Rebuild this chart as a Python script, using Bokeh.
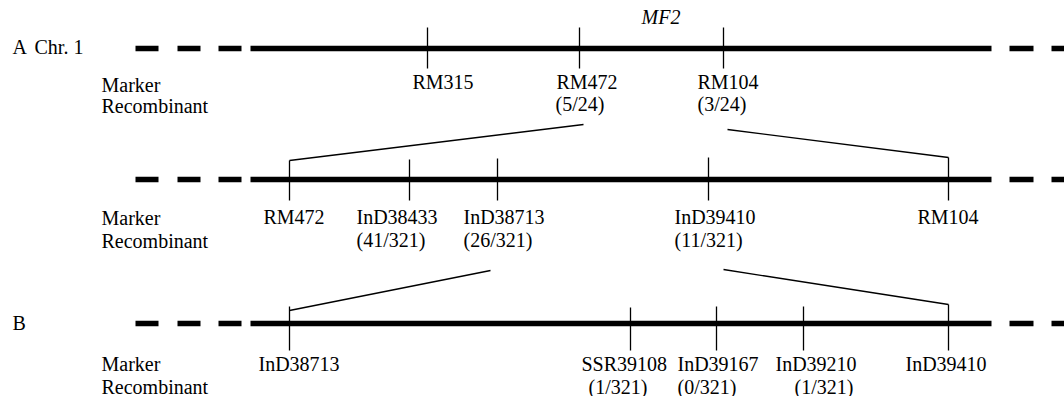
from bokeh.plotting import figure
from bokeh.models import Range1d, ColumnDataSource
from bokeh.embed import file_html
from bokeh.resources import INLINE
from bokeh.core.properties import value

# ---------------- data ----------------
# Row A : chromosome 1 overview
a_markers = ["RM315", "RM472", "RM104"]
a_pos = [427, 579, 723]
a_rec = ["", "(5/24)", "(3/24)"]

# Row A (zoomed interval RM472 - RM104)
m_markers = ["RM472", "InD38433", "InD38713", "InD39410", "RM104"]
m_pos = [289, 409, 497, 708, 948]
m_rec = ["", "(41/321)", "(26/321)", "(11/321)", ""]

# Row B (fine mapping InD38713 - InD39410)
b_markers = ["InD38713", "SSR39108", "InD39167", "InD39210", "InD39410"]
b_pos = [289, 630, 716, 803, 948]
b_rec = ["", "(1/321)", "(0/321)", "(1/321)", ""]

gene_name = "MF2"

# ---------------- layout (reference pixel space) ----------------
PW, PH = 1064, 396
FONT = value("Liberation Serif")
FS = value("20px")

row_y = [48, 179, 323]
tick_up = [[21, 21, 21], [19, 20, 21, 22, 22], [17, 16, 17, 17, 19]]
tick_dn = [20, 21, 27]
lab1_y = [81, 216, 363]
lab2_y = [103, 239, 386]
side1_y = [84, 217, 363]
side2_y = [105, 240, 386]
a_lab_x = [412, 556, 697]
m_lab_x = [263, 356, 463, 674, 917]
b_lab_x = [258, 581, 677, 775, 905]
a_rec_x = [412, 555, 697]
m_rec_x = [263, 356, 463, 674, 917]
b_rec_x = [258, 588, 677, 794, 905]

left_dashes = [(135, 158), (177, 200), (218, 241)]
solid = (250, 991)
right_dashes = [(1009, 1033), (1051, 1075)]

# zoom connector lines: (x_top, y_top) -> (x_bottom, y_bottom)
connectors = [
    ((583, 124), (289, 160)),
    ((727, 129), (948, 157)),
    ((490, 270), (289, 310)),
    ((723, 269), (948, 304)),
]

p = figure(width=PW, height=PH, output_backend="svg", toolbar_location=None,
           x_range=Range1d(0, PW), y_range=Range1d(PH, 0),
           x_axis_location=None, y_axis_location=None, min_border=0,
           outline_line_color=None, background_fill_color="white",
           border_fill_color="white")
p.grid.visible = False

# chromosome lines
for y in row_y:
    xs0 = [d[0] for d in left_dashes] + [solid[0]] + [d[0] for d in right_dashes]
    xs1 = [d[1] for d in left_dashes] + [solid[1]] + [d[1] for d in right_dashes]
    p.segment(x0=xs0, y0=[y] * len(xs0), x1=xs1, y1=[y] * len(xs1),
              line_color="black", line_width=5.5, line_cap="butt")

rows = [(a_markers, a_pos, a_rec, a_lab_x, a_rec_x),
        (m_markers, m_pos, m_rec, m_lab_x, m_rec_x),
        (b_markers, b_pos, b_rec, b_lab_x, b_rec_x)]

for i, (names, pos, rec, lx, rx) in enumerate(rows):
    y = row_y[i]
    p.segment(x0=pos, y0=[y - u for u in tick_up[i]], x1=pos, y1=[y + tick_dn[i]] * len(pos),
              line_color="black", line_width=1.3)
    src1 = ColumnDataSource(dict(x=lx, y=[lab1_y[i]] * len(lx), t=names))
    p.text(x="x", y="y", text="t", source=src1, text_font=FONT, text_font_size=FS,
           text_align="left", text_baseline="middle", text_color="black")
    src2 = ColumnDataSource(dict(x=rx, y=[lab2_y[i]] * len(rx), t=rec))
    p.text(x="x", y="y", text="t", source=src2, text_font=FONT, text_font_size=FS,
           text_align="left", text_baseline="middle", text_color="black")
    p.text(x=[101, 101], y=[side1_y[i], side2_y[i]], text=["Marker", "Recombinant"],
           text_font=FONT, text_font_size=FS, text_align="left",
           text_baseline="middle", text_color="black")

for (x0, y0), (x1, y1) in connectors:
    p.segment(x0=[x0], y0=[y0], x1=[x1], y1=[y1], line_color="black", line_width=1.3)

# row titles
p.text(x=[12, 34, 12], y=[46, 46, 322], text=["A", "Chr. 1", "B"], text_font=FONT,
       text_font_size=FS, text_align="left", text_baseline="middle", text_color="black")
p.text(x=[641], y=[16], text=[gene_name], text_font=FONT, text_font_size=FS,
       text_font_style="italic", text_align="left", text_baseline="middle", text_color="black")

open("out.html", "w").write(file_html(p, INLINE))
